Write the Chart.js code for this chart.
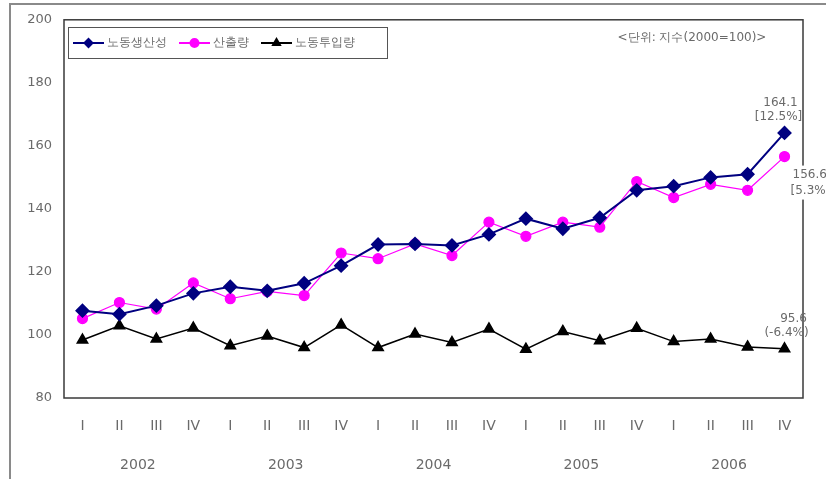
<!DOCTYPE html>
<html>
<head>
<meta charset="utf-8">
<script src="https://cdn.jsdelivr.net/npm/chart.js@4/dist/chart.umd.min.js"></script>
<style>
  html, body { margin: 0; padding: 0; background: #fff; }
  #wrap { width: 826px; height: 479px; }
</style>
</head>
<body>
<div id="wrap"><canvas id="mycanvas" width="826" height="479"></canvas></div>
<script>
// quarterly index, 2000 = 100
var quarters = ['I','II','III','IV','I','II','III','IV','I','II','III','IV','I','II','III','IV','I','II','III','IV'];
var years = ['2002','2003','2004','2005','2006'];
var yTicks = [80, 100, 120, 140, 160, 180, 200];

var productivity = [107.7,106.6,109.3,113.2, 115.3,114.0,116.4,122.0, 128.7,128.9,128.4,131.9, 136.9,133.7,137.2,145.9, 147.2,150.0,151.0,164.1];
var output       = [105.2,110.3,108.2,116.5, 111.5,113.8,112.5,126.0, 124.2,128.9,125.2,135.8, 131.3,135.8,134.2,148.7, 143.6,147.8,145.9,156.6];
var laborInput   = [98.4,102.9,98.7,102.2, 96.6,99.7,96.0,103.2, 96.0,100.3,97.6,101.9, 95.5,101.1,98.2,102.1, 97.9,98.7,96.2,95.6];

var seriesNames = ['노동생산성', '산출량', '노동투입량'];
var lastChange = ['[12.5%]', '[5.3%]', '(-6.4%)'];
var unitNote = '<단위: 지수(2000=100)>';

var FONT = 'DejaVu Sans';
var TEXT = '#6a6a6a';

var frame = {
  id: 'frame',
  beforeDatasetsDraw: function(chart) {
    var c = chart.ctx, a = chart.chartArea;
    c.save();
    // outer frame (top and left only)
    c.strokeStyle = '#8a8a8a';
    c.lineWidth = 2;
    c.beginPath();
    c.moveTo(10, 479); c.lineTo(10, 4); c.lineTo(826, 4);
    c.stroke();
    // plot box
    c.strokeStyle = '#3a3a3a';
    c.lineWidth = 1.5;
    c.strokeRect(a.left, a.top, a.right - a.left, a.bottom - a.top);
    c.restore();
  },
  afterDraw: function(chart) {
    var c = chart.ctx, x = chart.scales.x, y = chart.scales.y;
    c.save();
    // year row under the quarter ticks
    c.fillStyle = TEXT;
    c.font = '14px "' + FONT + '"';
    c.textAlign = 'center';
    c.textBaseline = 'middle';
    years.forEach(function(yr, i) {
      var px = (x.getPixelForValue(i * 4 + 1) + x.getPixelForValue(i * 4 + 2)) / 2;
      c.fillText(yr, px, 465);
    });

    // unit note
    c.font = '12px "' + FONT + '"';
    c.fillText(unitNote, 692, 38);

    // end-of-series values
    var last = quarters.length - 1;
    var px = x.getPixelForValue(last);
    c.font = '12px "' + FONT + '"';
    var py = y.getPixelForValue(productivity[last]);
    c.textAlign = 'center';
    c.fillText(productivity[last].toFixed(1), px - 4, py - 30);
    c.fillText(lastChange[0], px - 6, py - 16);
    py = y.getPixelForValue(output[last]);
    // the label sits over the plot border, so clear a patch behind it
    c.fillStyle = '#fff';
    c.fillRect(px + 6, py + 9, 40, 34);
    c.fillStyle = TEXT;
    c.textAlign = 'left';
    c.fillText(output[last].toFixed(1), px + 8, py + 18);
    c.fillText(lastChange[1], px + 6, py + 34);
    py = y.getPixelForValue(laborInput[last]);
    c.textAlign = 'center';
    c.fillText(laborInput[last].toFixed(1), px + 9, py - 30);
    c.fillText(lastChange[2], px + 2, py - 16);

    // legend box
    c.strokeStyle = '#555';
    c.lineWidth = 1;
    c.strokeRect(68.5, 27.5, 319, 31);
    var ly = 43, lx = 73;
    c.font = '12px "' + FONT + '"';
    chart.data.datasets.forEach(function(ds) {
      c.strokeStyle = ds.borderColor;
      c.lineWidth = 2;
      c.beginPath(); c.moveTo(lx, ly); c.lineTo(lx + 31, ly); c.stroke();
      c.fillStyle = ds.pointBackgroundColor;
      c.strokeStyle = ds.pointBackgroundColor;
      Chart.helpers.drawPoint(c, {
        pointStyle: ds.pointStyle, radius: 4, rotation: 0, borderWidth: 1
      }, lx + 15.5, ly);
      c.fillStyle = TEXT;
      c.textAlign = 'left';
      c.fillText(ds.label, lx + 34, ly);
      lx += 34 + c.measureText(ds.label).width + 12;
    });
    c.restore();
  }
};

var chartdata = {
  labels: quarters,
  datasets: [
    {
      label: seriesNames[0],
      data: productivity,
      borderColor: '#000080',
      backgroundColor: '#000080',
      pointBackgroundColor: '#000080',
      pointBorderColor: '#000080',
      borderWidth: 2,
      pointStyle: 'rectRot',
      pointRadius: 6,
      order: 1
    },
    {
      label: seriesNames[1],
      data: output,
      borderColor: '#ff00ff',
      backgroundColor: '#ff00ff',
      pointBackgroundColor: '#ff00ff',
      pointBorderColor: '#ff00ff',
      borderWidth: 1.2,
      pointStyle: 'circle',
      pointRadius: 5,
      order: 2
    },
    {
      label: seriesNames[2],
      data: laborInput,
      borderColor: '#000000',
      backgroundColor: '#000000',
      pointBackgroundColor: '#000000',
      pointBorderColor: '#000000',
      borderWidth: 1.5,
      pointStyle: 'triangle',
      pointRadius: 6,
      order: 3
    }
  ]
};

new Chart(document.getElementById('mycanvas'), {
  type: 'line',
  data: chartdata,
  options: {
    responsive: false,
    animation: false,
    layout: { padding: { left: 0, top: 19, right: 23, bottom: 0 } },
    plugins: { legend: { display: false }, tooltip: { enabled: false } },
    elements: { line: { tension: 0 } },
    scales: {
      x: {
        offset: true,
        grid: { display: false, drawTicks: false },
        border: { display: false },
        ticks: { color: TEXT, font: { family: FONT, size: 14 }, padding: 20, maxRotation: 0, autoSkip: false },
        afterFit: function(s) { s.height = 81; }
      },
      y: {
        min: 80,
        max: 200,
        afterBuildTicks: function(s) { s.ticks = yTicks.map(function(v) { return { value: v }; }); },
        grid: { display: false, drawTicks: false },
        border: { display: false },
        ticks: { color: TEXT, font: { family: FONT, size: 13 }, padding: 12 },
        afterFit: function(s) { s.width = 64; }
      }
    }
  },
  plugins: [frame]
});
</script>
</body>
</html>
